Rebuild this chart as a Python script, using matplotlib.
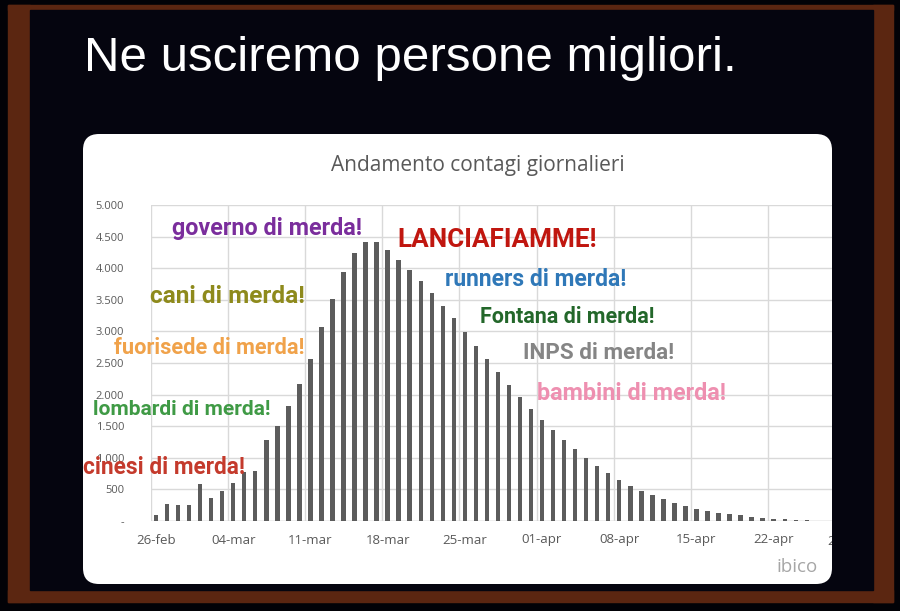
import matplotlib
matplotlib.use("Agg")
import matplotlib.pyplot as plt
import numpy as np
from matplotlib.patches import Rectangle, FancyBboxPatch
from matplotlib.transforms import Bbox

# daily new cases, 26-feb .. 25-apr
cases = [95, 264, 248, 248, 587, 359, 476, 597, 782, 793,
         1274, 1506, 1813, 2167, 2563, 3066, 3515, 3943, 4244, 4419,
         4419, 4286, 4133, 3969, 3795, 3610, 3409, 3214, 2983, 2772,
         2561, 2350, 2154, 1964, 1779, 1594, 1436, 1278, 1135, 1003,
         866, 760, 644, 560, 475, 412, 343, 290, 238, 195,
         158, 132, 106, 90, 63, 42, 32, 26, 21, 16]
days = np.arange(len(cases))

week_ticks = [0, 7, 14, 21, 28, 35, 42, 49, 56]
week_labels = ["26-feb", "04-mar", "11-mar", "18-mar", "25-mar",
               "01-apr", "08-apr", "15-apr", "22-apr"]

y_ticks = [0, 500, 1000, 1500, 2000, 2500, 3000, 3500, 4000, 4500, 5000]
y_labels = ["-", "500", "1.000", "1.500", "2.000", "2.500",
            "3.000", "3.500", "4.000", "4.500", "5.000"]

captions = ["governo di merda!", "LANCIAFIAMME!", "runners di merda!",
            "cani di merda!", "Fontana di merda!", "fuorisede di merda!",
            "INPS di merda!", "bambini di merda!", "lombardi di merda!",
            "cinesi di merda!"]

# where each caption sits (x in days, y in cases), its colour and size
cap_style = [
    (1.45, 4636, "#7a2d9c", 16.8),
    (21.9, 4446, "#c0160f", 18.8),
    (26.2, 3829, "#2f78b8", 16.5),
    (-0.55, 3560, "#8e8a1c", 17.6),
    (29.4, 3228, "#23672a", 15.5),
    (-3.8, 2737, "#f0a24a", 15.7),
    (33.3, 2658, "#858585", 16.2),
    (34.5, 2025, "#ee8fb0", 16.8),
    (-5.7, 1772, "#3f9a45", 15.1),
    (-6.6, 839, "#c43a2c", 16.3),
]

W, H = 900, 611
fig = plt.figure(figsize=(9, 6.11), dpi=100)
fig.patch.set_facecolor("#020207")

# background layer in pixel coordinates
bg = fig.add_axes([0, 0, 1, 1])
bg.set_xlim(0, W)
bg.set_ylim(H, 0)
bg.axis("off")

brown = "#5b2611"
bg.add_patch(Rectangle((8, 5), 885, 5, color=brown))        # top
bg.add_patch(Rectangle((8, 5), 22, 597, color=brown))       # left
bg.add_patch(Rectangle((873, 5), 20, 597, color=brown))     # right
bg.add_patch(Rectangle((8, 590), 885, 12, color=brown))     # bottom
bg.add_patch(Rectangle((30, 10), 843, 580, color="#05050f"))

card = FancyBboxPatch((83, 134), 749, 450,
                      boxstyle="round,pad=0,rounding_size=16",
                      facecolor="white", edgecolor="none")
bg.add_patch(card)

bg.text(84, 71, "Ne usciremo persone migliori.", color="white",
        fontsize=35.5, family="Liberation Sans", va="baseline", ha="left")
bg.text(478, 171, "Andamento contagi giornalieri", color="#595959",
        fontsize=15, family="Open Sans", va="baseline", ha="center")
bg.text(818, 567, "ibico", color="#a6a6a6", fontsize=13.5,
        family="Open Sans", va="center", ha="right")

# chart axes
x0 = 150.5
x1 = 832
ax = fig.add_axes([x0 / W, (H - 521) / H, (x1 - x0) / W, 316 / H])
ax.set_facecolor("none")
ax.bar(days, cases, width=0.4, color="#5c5c5c", zorder=3)

ax.set_yticks(y_ticks)
ax.set_yticklabels(y_labels)
ax.set_xticks(week_ticks)
ax.set_xticklabels(week_labels)
ax.set_xticks(np.arange(-0.5, 63, 7), minor=True)
ax.set_xlim(-0.5, (x1 - 156) / 11.03)
ax.set_ylim(0, 5000)
ax.tick_params(axis="both", which="both", length=0)
ax.tick_params(axis="y", pad=19, labelsize=8, labelcolor="#595959")
ax.tick_params(axis="x", pad=9, labelsize=9.5, labelcolor="#595959")
for lab in ax.get_xticklabels() + ax.get_yticklabels():
    lab.set_family("Open Sans")
ax.grid(axis="y", which="major", color="#d9d9d9", lw=1, zorder=0)
ax.grid(axis="x", which="minor", color="#d9d9d9", lw=1, zorder=0)
for s in ax.spines.values():
    s.set_visible(False)
ax.axhline(0, color="#d0d0d0", lw=1, zorder=2)

# cut-off "29-apr" label at the card edge
t = bg.text(848, 541, "29-apr", color="#595959", fontsize=9.5,
            family="Open Sans", ha="center", va="center", clip_on=True)
t.set_clip_box(Bbox.from_extents(83, H - 584, 832, H - 134))

for txt, (x, y, col, fs) in zip(captions, cap_style):
    ax.text(x, y, txt, color=col, fontsize=fs, family="Roboto",
            fontweight="bold", ha="left", va="center", zorder=5)

fig.savefig("out.png", dpi=100, facecolor=fig.get_facecolor())
